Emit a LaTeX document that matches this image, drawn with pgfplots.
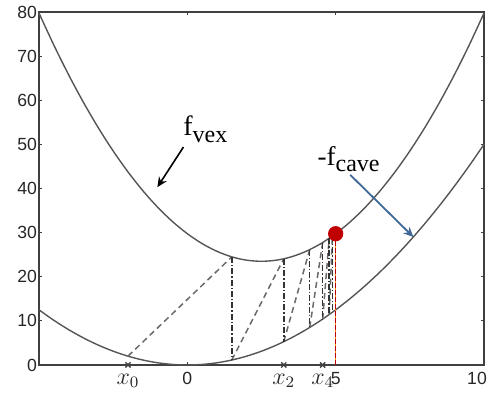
\documentclass[border=0pt]{standalone}
\usepackage{fontspec}
\setmainfont{Liberation Sans}
\newfontfamily\serif{Liberation Serif}
\usepackage{pgfplots}
\pgfplotsset{compat=1.18}
\usetikzlibrary{arrows.meta}

\definecolor{axisgray}{HTML}{404040}
\definecolor{curvegray}{HTML}{555555}
\definecolor{dashgray}{HTML}{6A6A6A}
\definecolor{dotred}{HTML}{C00000}
\definecolor{arrowblue}{HTML}{3F6896}

\begin{document}
\begin{tikzpicture}
\begin{axis}[
  scale only axis,
  width=222.5pt, height=176.5pt,
  xmin=-5, xmax=10, ymin=0, ymax=80,
  xtick={0,5,10}, ytick={0,10,...,80},
  xticklabels={0,5,{\kern-3.5pt 10\kern3.5pt}},
  tick align=inside,
  major tick length=1.5pt,
  axis line style={draw=axisgray, line width=0.65pt},
  every tick/.style={axisgray, line width=0.6pt},
  tick label style={font=\fontsize{8.8}{9}\selectfont, text=black!85},
  /pgf/number format/assume math mode=true,
  yticklabel style={inner sep=0.8pt},
  extra x ticks={-2,3.25,4.5625},
  extra x tick labels={$x_0$,$x_2$,$x_4$},
  extra x tick style={major tick length=0pt,
    tick label style={font=\fontsize{12}{12}\selectfont, yshift=-1pt}},
  clip=false,
]
% f_vex
\addplot[curvegray, line width=0.7pt, smooth] coordinates {
(-5,79.75) (-4.5,72.5) (-4,65.75) (-3.5,59.5) (-3,53.75) (-2.5,48.5)
(-2,43.75) (-1.5,39.5) (-1,35.75) (-0.5,32.5) (0,29.75) (0.5,27.5)
(1,25.75) (1.5,24.5) (2,23.75) (2.5,23.5) (3,23.75) (3.5,24.5)
(4,25.75) (4.5,27.5) (5,29.75) (5.5,32.5) (6,35.75) (6.5,39.5)
(7,43.75) (7.5,48.5) (8,53.75) (8.5,59.5) (9,65.75) (9.5,72.5) (10,79.75)};
% -f_cave
\addplot[curvegray, line width=0.7pt, smooth] coordinates {
(-5,12.5) (-4.5,10.125) (-4,8) (-3.5,6.125) (-3,4.5) (-2.5,3.125)
(-2,2) (-1.5,1.125) (-1,0.5) (-0.5,0.125) (0,0) (0.5,0.125)
(1,0.5) (1.5,1.125) (2,2) (2.5,3.125) (3,4.5) (3.5,6.125)
(4,8) (4.5,10.125) (5,12.5) (5.5,15.125) (6,18) (6.5,21.125)
(7,24.5) (7.5,28.125) (8,32) (8.5,36.125) (9,40.5) (9.5,45.125) (10,50)};

% iterations: dashed steps
\pgfplotsset{step/.style={dashgray, line width=0.75pt, dash pattern=on 3pt off 2pt}}
\addplot[step] coordinates {(-2,2) (1.5,24.5)};
\addplot[step] coordinates {(1.5,1.125) (3.25,24.0625)};
\addplot[step] coordinates {(3.25,5.28125) (4.125,26.1406)};
\addplot[step] coordinates {(4.125,8.5078) (4.5625,27.7539)};
\addplot[step] coordinates {(4.5625,10.4087) (4.78125,28.7041)};
\addplot[step] coordinates {(4.78125,11.4302) (4.8906,29.2149)};

% dash-dot verticals
\pgfplotsset{vert/.style={black!80, line width=0.75pt, dash pattern=on 3pt off 1pt on 0.7pt off 1pt}}
\addplot[vert] coordinates {(1.5,24.5) (1.5,1.125)};
\addplot[vert] coordinates {(3.25,24.0625) (3.25,5.28125)};
\addplot[vert] coordinates {(4.125,26.1406) (4.125,8.5078)};
\addplot[vert] coordinates {(4.5625,27.7539) (4.5625,10.4087)};
\addplot[vert] coordinates {(4.78125,28.7041) (4.78125,11.4302)};
\addplot[vert] coordinates {(4.8906,29.2149) (4.8906,11.9591)};

% limit point
\addplot[orange!80!yellow, line width=0.7pt] coordinates {(5,29.75) (5,0)};
\addplot[dotred, line width=0.7pt, dash pattern=on 2.5pt off 1pt] coordinates {(5,29.75) (5,0)};
\addplot[only marks, mark=*, mark size=3.6pt, color=dotred] coordinates {(5,29.75)};

% crosses on the axis
\addplot[only marks, mark=x, mark size=1.8pt, axisgray, line width=0.7pt]
  coordinates {(-2,0) (3.25,0) (4.5625,0)};

% labels and arrows
\node[anchor=base west, inner sep=0] at (axis cs:-0.15,52)
  {\serif\fontsize{14}{14}\selectfont f\raisebox{-3.5pt}{\fontsize{12}{12}\selectfont vex}};
\draw[-{Stealth[length=5pt,width=4.5pt]}, line width=0.8pt]
  (axis cs:-0.13,49.4) -- (axis cs:-1.01,40.3);
\node[anchor=base west, inner sep=0] at (axis cs:4.38,45.3)
  {\serif\fontsize{13.5}{13.5}\selectfont -f\raisebox{-3pt}{\fontsize{12}{12}\selectfont cave}};
\draw[-{Stealth[length=5pt,width=4.5pt]}, line width=0.9pt, arrowblue]
  (axis cs:5.49,43.1) -- (axis cs:7.62,29.0);
\end{axis}
\pgfresetboundingbox
\path[use as bounding box]
  ([shift={(-19.5pt,-18pt)}]current axis.south west)
  rectangle ([shift={(3pt,6pt)}]current axis.north east);
\end{tikzpicture}
\end{document}
